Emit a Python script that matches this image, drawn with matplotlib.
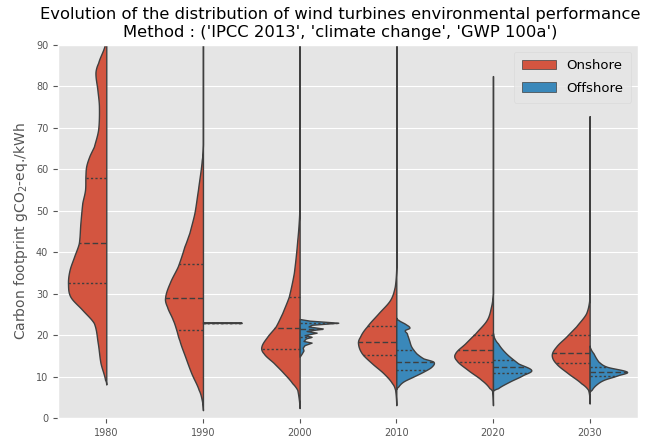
import numpy as np
import matplotlib
matplotlib.use('Agg')
import matplotlib.pyplot as plt
from matplotlib.patches import Patch

years = ['1980', '1990', '2000', '2010', '2020', '2030']

# violin outlines: level (gCO2-eq/kWh) and relative half width (0..1)
on80_v = [8.1, 9.2, 13.3, 18.1, 22.9, 26.1, 29.3, 32.5, 35.7, 39.0, 42.2, 47.0, 51.9, 55.0,
          58.3, 60.7, 63.1, 65.5, 69.6, 75.2, 79.2, 83.3, 85.7, 90.0, 95.0]
on80_w = [0, .03, .15, .22, .32, .62, .93, .99, .95, .83, .71, .67, .62, .55,
          .54, .52, .44, .32, .21, .19, .23, .28, .21, .04, 0]
on90_v = [1.9, 4.3, 6.8, 10.8, 14.8, 18.8, 21.3, 23.7, 26.9, 29.0, 32.6, 36.6, 41.4, 44.7,
          49.5, 55.0, 62.3, 66.0, 95.0]
on90_w = [0, .03, .11, .30, .46, .61, .69, .78, .93, .98, .86, .65, .48, .35,
          .22, .13, .03, 0, 0]
on00_v = [2.4, 6.8, 8.4, 10.8, 13.3, 15.6, 17.2, 19.6, 22.1, 25.3, 29.3, 35.0, 43.0, 49.5, 52.0, 95.0]
on00_w = [0, .06, .19, .41, .67, .93, .99, .84, .62, .45, .28, .15, .06, .01, 0, 0]
on10_v = [3.1, 6.8, 8.4, 10.8, 13.2, 15.6, 18.0, 19.6, 22.1, 25.3, 28.5, 31.7, 36.5, 95.0]
on10_w = [0, .03, .11, .33, .63, .89, .99, .94, .76, .46, .16, .04, 0, 0]
on20_v = [3.1, 6.5, 7.2, 9.2, 11.6, 14.0, 15.6, 18.0, 20.5, 23.7, 26.9, 30.1, 82.5]
on20_w = [0, .02, .09, .30, .65, .95, .98, .72, .45, .16, .05, 0, 0]
on30_v = [3.5, 6.8, 8.4, 10.8, 13.2, 15.2, 17.2, 19.6, 22.1, 25.3, 29.3, 72.8]
on30_w = [0, .04, .22, .56, .87, .98, .87, .61, .35, .09, 0, 0]

off90_v = [22.95, 23.0, 23.05]
off90_w = [0, 1.0, 0]
off00_v = [14.8, 15.5, 16.3, 17.0, 17.6, 18.2, 18.6, 19.2, 19.6, 20.0, 20.6, 21.0, 21.6,
           22.1, 22.5, 23.0, 23.5, 23.9]
off00_w = [0, .05, .10, .08, .13, .31, .10, .16, .31, .13, .44, .18, .60,
           .23, .31, 1.0, .26, 0]
off10_v = [7.0, 7.6, 8.8, 10.0, 11.2, 12.4, 13.6, 14.4, 15.6, 17.2, 18.8, 20.5, 21.2, 21.8,
           22.6, 23.7, 24.2]
off10_w = [0, .05, .18, .44, .70, .91, .96, .70, .52, .39, .33, .27, .22, .34,
           .25, .05, 0]
off20_v = [6.6, 7.2, 8.8, 10.4, 11.6, 13.2, 15.6, 18.0, 19.4, 20.5]
off20_w = [0, .13, .43, .78, .99, .65, .34, .13, .03, 0]
off30_v = [6.3, 6.8, 8.0, 9.2, 10.4, 11.2, 12.4, 13.6, 15.6, 16.8, 17.5]
off30_w = [0, .05, .16, .36, .75, .96, .44, .23, .10, .02, 0]

# quartiles (q1, median, q3)
on_q1 = [32.5, 21.3, 16.7, 15.2, 13.6, 13.2]
on_med = [42.3, 29.0, 21.7, 18.3, 16.4, 15.8]
on_q3 = [58.0, 37.1, 29.3, 22.2, 20.0, 20.0]
off_q1 = [None, 23.0, 19.6, 11.6, 10.8, 10.2]
off_med = [None, 23.0, 21.6, 13.6, 12.4, 11.2]
off_q3 = [None, 23.0, 23.0, 16.4, 14.0, 12.4]

onshore = [(on80_v, on80_w), (on90_v, on90_w), (on00_v, on00_w),
           (on10_v, on10_w), (on20_v, on20_w), (on30_v, on30_w)]
offshore = [None, (off90_v, off90_w), (off00_v, off00_w),
            (off10_v, off10_w), (off20_v, off20_w), (off30_v, off30_w)]

plt.style.use('ggplot')
red = '#D35540'
blue = '#3A88BA'
edge = '#3f3f3f'
half = 0.4


def smooth(v, w, n=10):
    # rounds off the outline between the read points (level stays linear, width cubic)
    v = np.asarray(v, float)
    w = np.asarray(w, float)
    pw = np.concatenate([[w[0]], w, [w[-1]]])
    out_v, out_w = [], []
    t = np.linspace(0, 1, n, endpoint=False)
    for k in range(len(v) - 1):
        p0, p1, p2, p3 = pw[k], pw[k + 1], pw[k + 2], pw[k + 3]
        out_v.extend(v[k] + (v[k + 1] - v[k]) * t)
        out_w.extend(0.5 * (2 * p1 + (-p0 + p2) * t + (2 * p0 - 5 * p1 + 4 * p2 - p3) * t ** 2
                            + (-p0 + 3 * p1 - 3 * p2 + p3) * t ** 3))
    out_v.append(v[-1])
    out_w.append(w[-1])
    return np.array(out_v), np.clip(np.array(out_w), 0, None)


fig = plt.figure(figsize=(6.51, 4.41), dpi=100)
ax = fig.add_axes([0.089, 0.052, 0.891, 0.846])


def draw_half(i, prof, side, color, qs, soft=True):
    if soft:
        v, w = smooth(prof[0], prof[1])
    else:
        v, w = np.array(prof[0]), np.array(prof[1])
    w = w * half
    if side < 0:
        ax.fill_betweenx(v, i - w, i, facecolor=color, edgecolor=edge, linewidth=1.0, zorder=2)
    else:
        ax.fill_betweenx(v, i, i + w, facecolor=color, edgecolor=edge, linewidth=1.0, zorder=2)
    for k, q in enumerate(qs):
        if q is None:
            continue
        qw = np.interp(q, v, w)
        dashes = (4, 2) if k == 1 else (1.6, 1.6)
        ax.plot([i, i + side * qw], [q, q], color=edge, linewidth=1.0,
                dashes=dashes, zorder=3)


for i in range(len(years)):
    draw_half(i, onshore[i], -1, red, [on_q1[i], on_med[i], on_q3[i]])
    if offshore[i] is not None:
        draw_half(i, offshore[i], 1, blue, [off_q1[i], off_med[i], off_q3[i]], soft=i > 2)

ax.set_xlim(-0.5, 5.5)
ax.set_ylim(0, 90)
ax.set_xticks(range(len(years)))
ax.set_xticklabels(years)
ax.set_yticks(range(0, 91, 10))
ax.xaxis.grid(False)
ax.tick_params(labelsize=7, colors='#555555')
ax.set_ylabel('Carbon footprint gCO$_2$-eq./kWh', fontsize=10, color='#555555')
ax.set_title("Evolution of the distribution of wind turbines environmental performance\n"
             "Method : ('IPCC 2013', 'climate change', 'GWP 100a')", fontsize=11.8, x=0.487)

handles = [Patch(facecolor=red, edgecolor=edge, label='Onshore'),
           Patch(facecolor=blue, edgecolor=edge, label='Offshore')]
ax.legend(handles=handles, loc='upper right', fontsize=9.5, handlelength=2.6,
          labelspacing=0.7, borderpad=0.6, edgecolor='#d8d8d8')

fig.savefig('out.png', dpi=100)
